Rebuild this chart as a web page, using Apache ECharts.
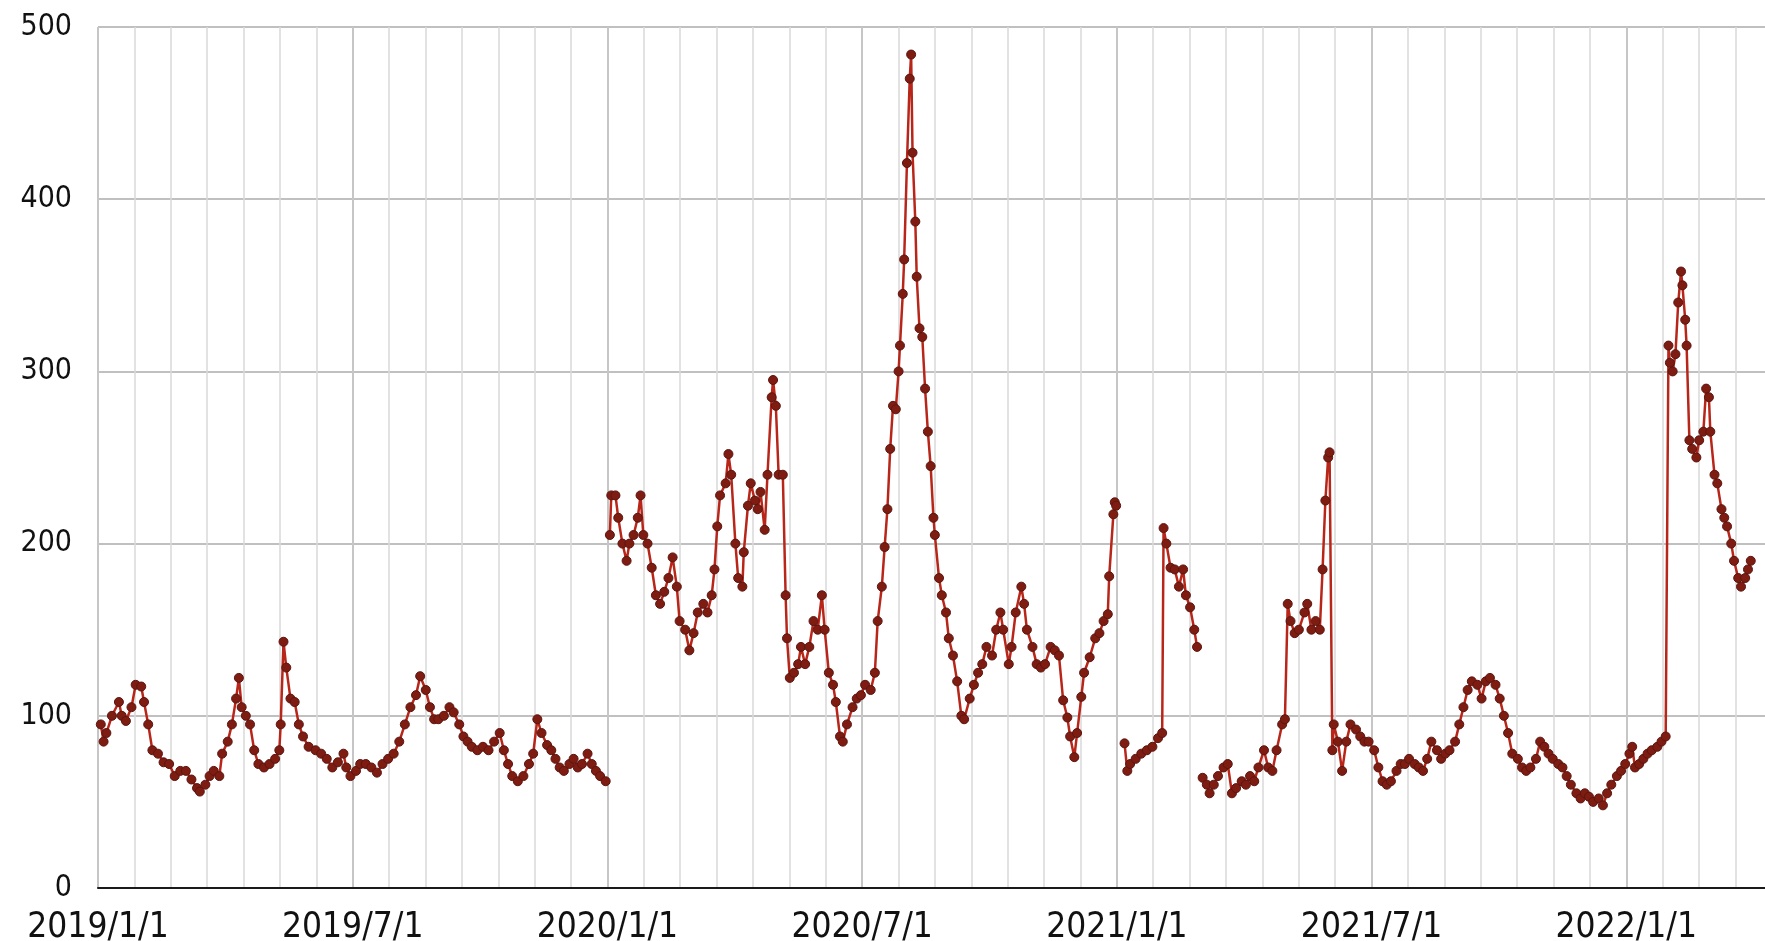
<!DOCTYPE html>
<html>
<head>
<meta charset="utf-8">
<script src="https://cdn.jsdelivr.net/npm/echarts@6/dist/echarts.min.js"></script>
<style>
html,body{margin:0;padding:0;background:#fff;}
#chart{width:1765px;height:941px;}
</style>
</head>
<body>
<div id="chart"></div>
<script>
// x values: days since 2019/1/1 ; null value = break in the line
const tickLabels = ['2019/1/1','2019/7/1','2020/1/1','2020/7/1','2021/1/1','2021/7/1','2022/1/1'];
const yTicks = [0,100,200,300,400,500];

const days2019 = [2,4,6,10,15,17,20,24,27,31, 33,36,39,43,47,51,55,59,63,67, 71,73,77,80,83,87,89,93,96,99,
  101,103,106,109,112,115,119,123,127,130, 131,133,135,138,141,144,147,151,156,160,
  164,168,172,176,178,181,185,188,192,196, 200,204,208,212,216,220,224,228,231,235,
  238,241,244,248,252,255,259,262,265,268, 272,276,280,284,288,291,294,297,301,305,
  309,312,315,318,322,325,328,331,334,338, 341,344,347,351,354,357,360,364];
const vals2019 = [95,85,90,100,108,100,97,105,118,117, 108,95,80,78,73,72,65,68,68,63, 58,56,60,65,68,65,78,85,95,110,
  122,105,100,95,80,72,70,72,75,80, 95,143,128,110,108,95,88,82,80,78,
  75,70,73,78,70,65,68,72,72,70, 67,72,75,78,85,95,105,112,123,115,
  105,98,98,100,105,102,95,88,85,82, 80,82,80,85,90,80,72,65,62,65,
  72,78,98,90,83,80,75,70,68,72, 75,70,72,78,72,68,65,62];

const days2020 = [365.5,
  367,368,371,373,376,379,381,384,387,389, 391,394,397,400,403,406,409,412,415,417,
  421,424,427,430,434,437,440,442,444,446, 450,452,454,457,459,462,463,466,468,471,
  473,475,478,480,483,484,486,488,491,493, 494,496,499,502,504,507,510,513,516,519,
  521,524,527,529,532,534,537,541,544,547, 550,554,557,559,562,564,566,568,570,572,
  574,575,577,578,580,582,583,584,586,587, 589,591,593,595,597,599,600,603,605,608,
  610,613,616,619,621,625,628,631,634,637, 641,644,647,649,653,655,658,662,664,666,
  670,673,676,679,683,686,689,692,695,697, 700,702,705,707,711,715,718,721,724,725,
  728,729,730];
const vals2020 = [null,
  205,228,228,215,200,190,200,205,215,228, 205,200,186,170,165,172,180,192,175,155,
  150,138,148,160,165,160,170,185,210,228, 235,252,240,200,180,175,195,222,235,225,
  220,230,208,240,285,295,280,240,240,170, 145,122,125,130,140,130,140,155,150,170,
  150,125,118,108,88,85,95,105,110,112, 118,115,125,155,175,198,220,255,280,278,
  300,315,345,365,421,470,484,427,387,355, 325,320,290,265,245,215,205,180,170,160,
  145,135,120,100,98,110,118,125,130,140, 135,150,160,150,130,140,160,175,165,150,
  140,130,128,130,140,138,135,109,99,88, 76,90,111,125,134,145,148,155,159,181,
  217,224,222];

const days2021 = [731.5,
  736,738,740,744,748,752,756,760,763,764, 766,769,772,775,778,780,783,786,788, 790,
  792,795,797,800,803,807,810,813,816,820, 823,826,829,832,836,839,842,845,849,851,
  853,855,858,861,865,867,870,873,876,878, 880,882,883,885,886,889,892,895,898,902,
  905,908,911,915,918,921,924,927,931,934, 937,940,944,947,950,953,956,960,963,966,
  969,973,976,979,982,985,989,992,995,998, 1002,1005,1008,1011,1014,1018,1021,1024,1027,1031,
  1034,1037,1040,1043,1047,1050,1053,1056,1060,1063, 1066,1069,1072,1076,1079,1082,1085,1089,1092,1095,
  1098,1100,1102,1105,1108,1111,1114,1118,1121,1124, 1126,1127,1129,1131,1133,1135,1136,1138,1139,1141,
  1143,1146,1148,1151,1153,1155,1156,1159,1161,1164, 1166,1168,1171,1173,1176,1178,1181,1183,1185];
const vals2021 = [null,
  84,68,72,75,78,80,82,87,90,209, 200,186,185,175,185,170,163,150,140, null,
  64,60,55,60,65,70,72,55,58,62, 60,65,62,70,80,70,68,80,95,98,
  165,155,148,150,160,165,150,155,150,185, 225,250,253,80,95,85,68,85,95,92,
  88,85,85,80,70,62,60,62,68,72, 72,75,72,70,68,75,85,80,75,78,
  80,85,95,105,115,120,118,110,120,122, 118,110,100,90,78,75,70,68,70,75,
  85,82,78,75,72,70,65,60,55,52, 55,53,50,52,48,55,60,65,68,72,
  78,82,70,72,75,78,80,82,85,88, 315,305,300,310,340,358,350,330,315,260,
  255,250,260,265,290,285,265,240,235,220, 215,210,200,190,180,175,180,185,190];

const HALF_YEAR = 182.625; // days between labelled ticks
const FONT = "'DejaVu Sans Condensed','DejaVu Sans','Liberation Sans',sans-serif";

const allDays = days2019.concat(days2020, days2021);
const allVals = vals2019.concat(vals2020, vals2021);
const seriesData = allDays.map((d, i) => [d, allVals[i] === null ? '-' : allVals[i]]);

const chart = echarts.init(document.getElementById('chart'), null, {renderer: 'canvas'});
chart.setOption({
  animation: false,
  backgroundColor: '#ffffff',
  grid: {left: 98, top: 27, width: Math.round(HALF_YEAR * 7 * 1.3951), height: 861,
         containLabel: false, outerBoundsMode: 'none'},
  xAxis: {
    type: 'value',
    min: 0,
    max: HALF_YEAR * 7,
    interval: HALF_YEAR,
    axisLine: {show: true, lineStyle: {color: '#1a1a1a', width: 2}},
    axisTick: {show: false},
    axisLabel: {
      show: true, showMinLabel: true, color: '#111', fontSize: 35, fontFamily: FONT, margin: 22,
      formatter: function (v) {
        const i = Math.round(v / HALF_YEAR);
        if (Math.abs(v - i * HALF_YEAR) < 0.01 && i < tickLabels.length) return tickLabels[i];
        return '';
      }
    },
    splitLine: {show: true, lineStyle: {color: '#c6c6c6', width: 2}},
    minorTick: {show: false, splitNumber: 7},
    minorSplitLine: {show: true, lineStyle: {color: '#d9d9d9', width: 1.5}}
  },
  yAxis: {
    type: 'value',
    min: yTicks[0],
    max: yTicks[yTicks.length - 1],
    interval: 100,
    axisLine: {show: false},
    axisTick: {show: false},
    axisLabel: {color: '#111', fontSize: 30, fontFamily: FONT, margin: 26},
    splitLine: {show: true, lineStyle: {color: '#c0c0c0', width: 2}}
  },
  series: [{
    type: 'line',
    data: seriesData,
    connectNulls: false,
    showSymbol: true,
    showAllSymbol: true,
    symbol: 'circle',
    symbolSize: 9,
    lineStyle: {color: '#b8261a', width: 2.5},
    itemStyle: {color: '#7e1c12', borderColor: '#5c1510', borderWidth: 1},
    emphasis: {disabled: true}
  }]
});
</script>
</body>
</html>
